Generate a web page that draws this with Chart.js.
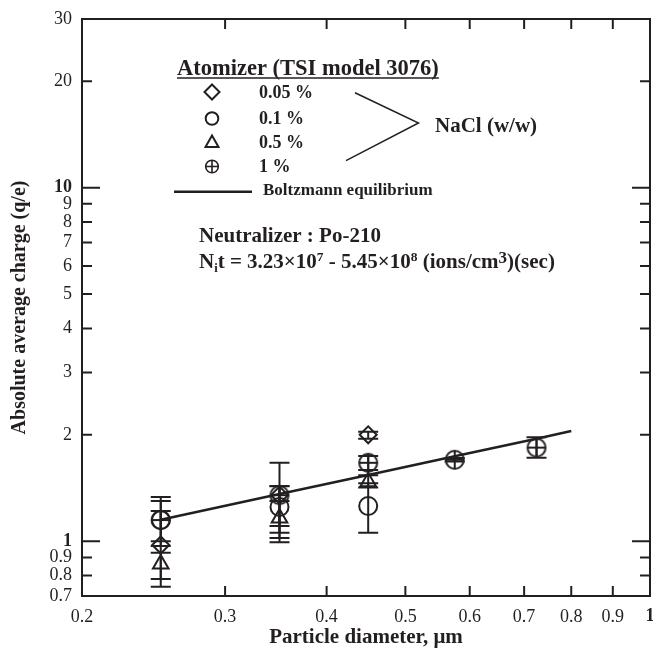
<!DOCTYPE html>
<html><head><meta charset="utf-8">
<script src="https://cdn.jsdelivr.net/npm/chart.js@4/dist/chart.umd.min.js"></script>
<style>html,body{margin:0;padding:0;background:#fff}canvas{display:block}</style>
</head><body>
<canvas id="c" width="653" height="651"></canvas>
<script>
// ---- data ----
const xTicks = [0.2, 0.3, 0.4, 0.5, 0.6, 0.7, 0.8, 0.9, 1];
const xTickLabels = ['0.2', '0.3', '0.4', '0.5', '0.6', '0.7', '0.8', '0.9', '1'];
const yTicks = [0.7, 0.8, 0.9, 1, 2, 3, 4, 5, 6, 7, 8, 9, 10, 20, 30];
const yTickLabels = ['0.7', '0.8', '0.9', '1', '2', '3', '4', '5', '6', '7', '8', '9', '10', '20', '30'];

const diamX = [0.25, 0.35, 0.45, 0.575, 0.725];

const q005 = [0.976, 1.35, 2.0];
const q005Lo = [0.743, 1.022, 1.95];
const q005Hi = [1.217, 1.667, 2.04];

const q01 = [1.148, 1.25, 1.258];
const q01Lo = [0.97, 1.057, 1.057];
const q01Hi = [1.334, 1.43, 1.46];

const q05 = [0.862, 1.163, 1.474];
const q05Lo = [0.782, 0.993, 1.42];
const q05Hi = [0.928, 1.30, 1.536];

const q1 = [1.148, 1.35, 1.667, 1.70, 1.84];
const q1Lo = [1.0, 1.105, 1.59, 1.68, 1.723];
const q1Hi = [1.30, 1.432, 1.742, 1.72, 1.967];

const boltzX = [0.25, 0.35, 0.45, 0.575, 0.725, 0.8];
const boltzQ = [1.15, 1.36, 1.54, 1.74, 1.95, 2.05];

// ---- styling ----
const INK = '#231f20';
const SERIF = '"Liberation Serif", "Times New Roman", serif';

function pts(xs, ys) { return ys.map((v, i) => ({x: xs[i], y: v})); }

// circle-with-cross point style
const oplus = document.createElement('canvas');
oplus.width = 24; oplus.height = 24;
(function () {
  const g = oplus.getContext('2d');
  g.strokeStyle = INK; g.lineWidth = 2;
  g.beginPath(); g.arc(12, 12, 9, 0, Math.PI * 2); g.stroke();
  g.beginPath(); g.moveTo(3, 12); g.lineTo(21, 12); g.moveTo(12, 3); g.lineTo(12, 21); g.stroke();
})();

const errorBars = {
  id: 'errorBars',
  afterDatasetsDraw(chart) {
    const {ctx, scales: {x, y}} = chart;
    ctx.save();
    ctx.strokeStyle = INK; ctx.lineWidth = 2;
    chart.data.datasets.forEach(ds => {
      if (!ds.errLo) return;
      ds.data.forEach((p, i) => {
        const px = x.getPixelForValue(p.x);
        const yl = y.getPixelForValue(ds.errLo[i]);
        const yh = y.getPixelForValue(ds.errHi[i]);
        ctx.beginPath();
        ctx.moveTo(px, yl); ctx.lineTo(px, yh);
        ctx.moveTo(px - 10, yl); ctx.lineTo(px + 10, yl);
        ctx.moveTo(px - 10, yh); ctx.lineTo(px + 10, yh);
        ctx.stroke();
      });
    });
    ctx.restore();
  }
};

const frame = {
  id: 'frame',
  afterDraw(chart) {
    const {ctx, chartArea: a, scales: {x, y}} = chart;
    ctx.save();
    ctx.strokeStyle = INK; ctx.lineWidth = 2;
    ctx.strokeRect(a.left, a.top, a.right - a.left, a.bottom - a.top);
    ctx.beginPath();
    x.ticks.forEach(t => {
      const px = x.getPixelForValue(t.value);
      ctx.moveTo(px, a.bottom); ctx.lineTo(px, a.bottom - 10);
      ctx.moveTo(px, a.top); ctx.lineTo(px, a.top + 10);
    });
    y.ticks.forEach(t => {
      const py = y.getPixelForValue(t.value);
      const L = (t.value === 1 || t.value === 10) ? 18 : 10;
      ctx.moveTo(a.left, py); ctx.lineTo(a.left + L, py);
      ctx.moveTo(a.right, py); ctx.lineTo(a.right - L, py);
    });
    ctx.stroke();
    ctx.restore();
  }
};

const notes = {
  id: 'notes',
  afterDraw(chart) {
    const ctx = chart.ctx;
    ctx.save();
    ctx.fillStyle = INK; ctx.strokeStyle = INK;
    ctx.textBaseline = 'alphabetic';
    // heading
    ctx.font = 'bold 22.5px ' + SERIF;
    ctx.textAlign = 'left';
    const head = 'Atomizer (TSI model 3076)';
    ctx.fillText(head, 177, 75);
    const hw = ctx.measureText(head).width;
    ctx.lineWidth = 1.5;
    ctx.beginPath(); ctx.moveTo(177, 78); ctx.lineTo(177 + hw, 78); ctx.stroke();

    // legend markers
    const mx = 212;
    ctx.lineWidth = 2;
    ctx.beginPath(); // diamond
    ctx.moveTo(mx, 84.5); ctx.lineTo(mx + 7.5, 92); ctx.lineTo(mx, 99.5); ctx.lineTo(mx - 7.5, 92); ctx.closePath(); ctx.stroke();
    ctx.beginPath(); ctx.arc(mx, 118.5, 6.3, 0, Math.PI * 2); ctx.stroke(); // circle
    ctx.beginPath(); // triangle
    ctx.moveTo(mx, 135.5); ctx.lineTo(mx + 6.5, 147); ctx.lineTo(mx - 6.5, 147); ctx.closePath(); ctx.stroke();
    ctx.lineWidth = 1.6;
    ctx.beginPath(); ctx.arc(mx, 166.5, 6.3, 0, Math.PI * 2); ctx.stroke(); // oplus
    ctx.beginPath(); ctx.moveTo(mx - 6.3, 166.5); ctx.lineTo(mx + 6.3, 166.5); ctx.moveTo(mx, 160.2); ctx.lineTo(mx, 172.8); ctx.stroke();

    ctx.font = 'bold 18px ' + SERIF;
    ctx.textBaseline = 'middle';
    ctx.fillText('0.05 %', 259, 93);
    ctx.fillText('0.1 %', 259, 119);
    ctx.fillText('0.5 %', 259, 143);
    ctx.fillText('1 %', 259, 167);

    // bracket
    ctx.lineWidth = 1.5;
    ctx.beginPath(); ctx.moveTo(355, 92.7); ctx.lineTo(418.5, 123); ctx.lineTo(346, 160.7); ctx.stroke();
    ctx.font = 'bold 21px ' + SERIF;
    ctx.fillText('NaCl (w/w)', 435, 127);

    // Boltzmann legend line
    ctx.lineWidth = 2.5;
    ctx.beginPath(); ctx.moveTo(174, 191.7); ctx.lineTo(252, 191.7); ctx.stroke();
    ctx.font = 'bold 17px ' + SERIF;
    ctx.fillText('Boltzmann equilibrium', 263, 191);

    // neutralizer
    ctx.textBaseline = 'alphabetic';
    ctx.font = 'bold 21px ' + SERIF;
    ctx.fillText('Neutralizer : Po-210', 199, 241.7);

    // Ni t line with sub/superscripts
    let cx = 199; const by = 268.3;
    const seg = (txt, size, dy) => {
      ctx.font = 'bold ' + size + 'px ' + SERIF;
      ctx.fillText(txt, cx, by + dy);
      cx += ctx.measureText(txt).width;
    };
    seg('N', 21, 0); seg('i', 12.5, 4); seg('t = 3.23\u00d710', 21, 0); seg('7', 13.5, -7);
    seg(' - 5.45\u00d710', 21, 0); seg('8', 13.5, -7); seg(' (ions/cm', 21, 0); seg('3', 17, -5);
    seg(')(sec)', 21, 0);
    ctx.restore();
  }
};

const tickFont = (c) => ({
  family: SERIF, size: 18,
  weight: (c.tick && (c.tick.value === 1 || c.tick.value === 10)) ? 'bold' : 'normal'
});

new Chart(document.getElementById('c'), {
  type: 'scatter',
  data: {
    datasets: [
      {label: 'Boltzmann equilibrium', data: pts(boltzX, boltzQ), showLine: true, pointRadius: 0,
       borderColor: INK, borderWidth: 2.5, fill: false, order: 5},
      {label: '0.05 %', data: pts(diamX, q005), errLo: q005Lo, errHi: q005Hi, pointStyle: 'rectRot',
       pointRadius: 8.5, borderColor: INK, backgroundColor: 'rgba(0,0,0,0)', borderWidth: 2},
      {label: '0.1 %', data: pts(diamX, q01), errLo: q01Lo, errHi: q01Hi, pointStyle: 'circle',
       pointRadius: 9, borderColor: INK, backgroundColor: 'rgba(0,0,0,0)', borderWidth: 2},
      {label: '0.5 %', data: pts(diamX, q05), errLo: q05Lo, errHi: q05Hi, pointStyle: 'triangle',
       pointRadius: 9, borderColor: INK, backgroundColor: 'rgba(0,0,0,0)', borderWidth: 2},
      {label: '1 %', data: pts(diamX, q1), errLo: q1Lo, errHi: q1Hi, pointStyle: oplus,
       pointRadius: 9, borderColor: INK, backgroundColor: 'rgba(0,0,0,0)', borderWidth: 2}
    ]
  },
  options: {
    responsive: false, animation: false, devicePixelRatio: 1,
    layout: {autoPadding: false, padding: {left: 0, right: 3, top: 19, bottom: 0}},
    plugins: {legend: {display: false}, tooltip: {enabled: false}},
    scales: {
      x: {
        type: 'logarithmic', min: 0.2, max: 1,
        afterBuildTicks: s => { s.ticks = xTicks.map(v => ({value: v})); },
        afterFit: s => { s.height = 55; s.paddingLeft = 0; s.paddingRight = 0; },
        ticks: {autoSkip: false, maxRotation: 0, padding: 10, color: INK, font: tickFont,
                callback: (v) => { const i = xTicks.indexOf(v); return i >= 0 ? xTickLabels[i] : ''; }},
        grid: {display: false, drawTicks: false},
        border: {display: false},
        title: {display: true, text: 'Particle diameter, \u03bcm', color: INK,
                font: {family: SERIF, size: 21, weight: 'bold'}, padding: {top: 0, bottom: 1}}
      },
      y: {
        type: 'logarithmic', min: 0.7, max: 30,
        afterBuildTicks: s => { s.ticks = yTicks.map(v => ({value: v})); },
        afterFit: s => { s.width = 82; s.paddingTop = 0; s.paddingBottom = 0; },
        ticks: {autoSkip: false, padding: 10, color: INK, font: tickFont,
                callback: (v) => { const i = yTicks.indexOf(v); return i >= 0 ? yTickLabels[i] : ''; }},
        grid: {display: false, drawTicks: false},
        border: {display: false},
        title: {display: true, text: 'Absolute average charge (q/e)', color: INK,
                font: {family: SERIF, size: 20, weight: 'bold'}, padding: {top: 8, bottom: 0}}
      }
    }
  },
  plugins: [errorBars, frame, notes]
});
</script>
</body></html>
